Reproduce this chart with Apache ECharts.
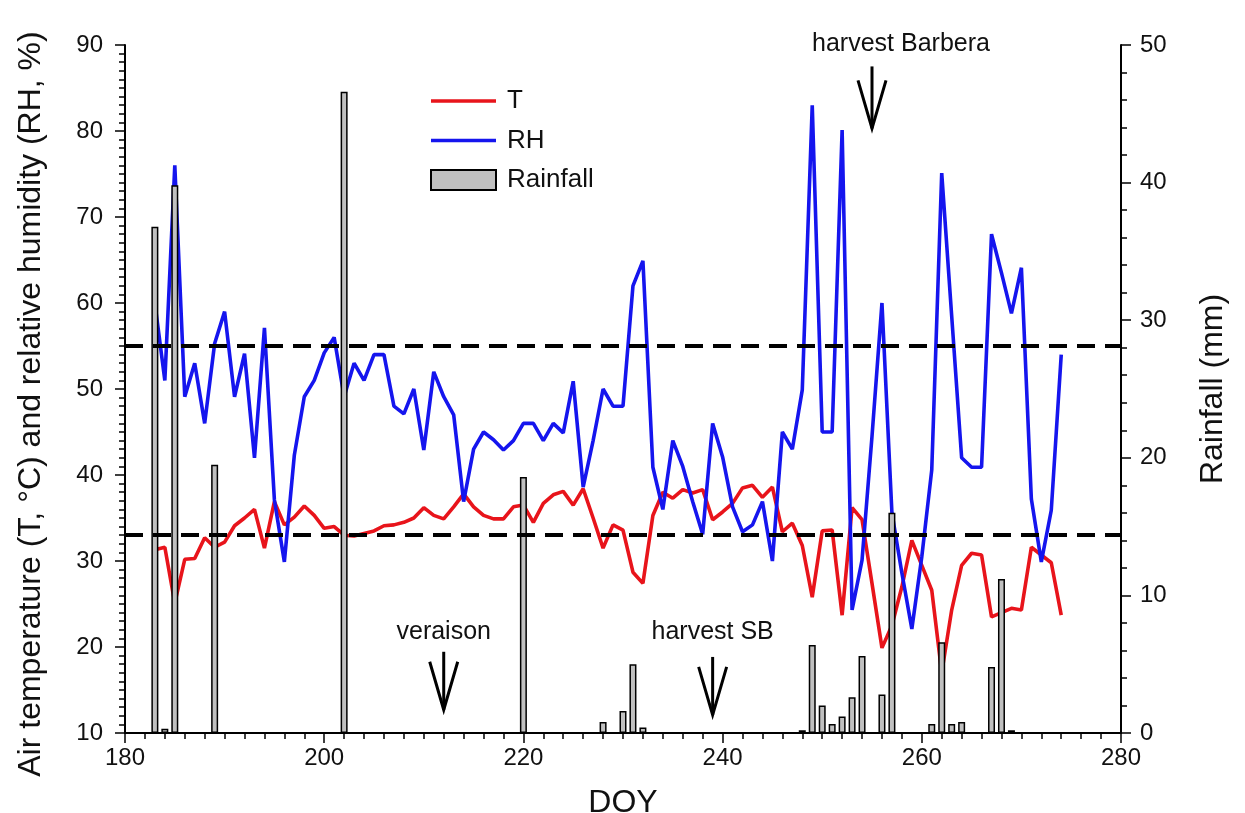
<!DOCTYPE html>
<html>
<head>
<meta charset="utf-8">
<script src="https://cdn.jsdelivr.net/npm/echarts@6/dist/echarts.min.js"></script>
<style>
  html, body { margin: 0; background: #fff; }
  #chart { width: 1245px; height: 813px; }
</style>
</head>
<body>
<div id="chart"></div>
<script>
// day of year for the daily T / RH records
var days = [183, 184, 185, 186, 187, 188, 189, 190, 191, 192, 193, 194, 195, 196, 197, 198, 199, 200,
  201, 202, 203, 204, 205, 206, 207, 208, 209, 210, 211, 212, 213, 214, 215, 216, 217, 218, 219, 220,
  221, 222, 223, 224, 225, 226, 227, 228, 229, 230, 231, 232, 233, 234, 235, 236, 237, 238, 239, 240,
  241, 242, 243, 244, 245, 246, 247, 248, 249, 250, 251, 252, 253, 254, 255, 256, 257, 258, 259, 260,
  261, 262, 263, 264, 265, 266, 267, 268, 269, 270, 271, 272, 273, 274];
// air temperature (°C)
var temp = [31.3, 31.6, 25.1, 30.2, 30.3, 32.7, 31.6, 32.2, 34.1, 35.0, 36.0, 31.5, 36.9, 34.2, 35.1, 36.4, 35.3, 33.8,
  34.0, 33.0, 32.9, 33.2, 33.5, 34.1, 34.2, 34.5, 35.0, 36.2, 35.3, 34.9, 36.3, 37.8, 36.3, 35.3, 34.9, 34.9, 36.3, 36.5,
  34.5, 36.7, 37.7, 38.1, 36.5, 38.4, 35.0, 31.5, 34.2, 33.6, 28.7, 27.4, 35.3, 38.0, 37.3, 38.3, 37.9, 38.3, 34.8, 35.7,
  36.7, 38.5, 38.8, 37.4, 38.6, 33.4, 34.4, 31.8, 25.8, 33.5, 33.6, 23.7, 36.2, 34.8, 27.4, 19.9, 22.5, 27.0, 32.4, 29.5,
  26.6, 17.0, 24.3, 29.5, 30.9, 30.7, 23.5, 24.0, 24.5, 24.3, 31.6, 30.7, 29.8, 23.7];
// relative humidity (%)
var rh = [60.0, 51.0, 76.0, 49.1, 53.0, 46.0, 55.3, 59.0, 49.1, 54.1, 42.0, 57.1, 37.1, 29.9, 42.3, 49.1, 51.0, 54.2,
  56.0, 49.1, 53.0, 51.0, 54.0, 54.0, 48.0, 47.1, 50.0, 42.9, 52.0, 49.1, 47.0, 36.9, 43.0, 45.0, 44.1, 42.9, 44.0, 46.0,
  46.0, 44.0, 46.0, 44.9, 50.9, 38.6, 44.0, 50.0, 48.0, 48.0, 62.0, 64.9, 40.9, 36.0, 44.0, 41.0, 36.9, 33.1, 46.0, 42.1,
  36.3, 33.4, 34.2, 36.9, 30.0, 45.0, 43.0, 49.9, 83.0, 45.0, 45.0, 80.1, 24.3, 30.1, 44.5, 60.0, 35.6, 28.6, 22.1, 30.5,
  40.6, 75.1, 58.5, 42.0, 40.9, 40.9, 68.0, 63.5, 58.8, 64.1, 37.2, 29.9, 35.9, 54.0];
// rainfall events (mm)
var rainDays = [183, 184, 185, 189, 202, 220, 228, 230, 231, 232, 248, 249, 250, 251, 252, 253, 254,
  256, 257, 261, 262, 263, 264, 267, 268, 269];
var rainMm = [36.8, 0.3, 39.8, 19.5, 46.6, 18.6, 0.8, 1.6, 5.0, 0.4, 0.2, 6.4, 2.0, 0.65, 1.2, 2.6, 5.6,
  2.8, 16.0, 0.65, 6.6, 0.65, 0.8, 4.8, 11.2, 0.2];
// dashed reference levels on the left axis
var refLevels = [55, 33];
// phenology marks
var noteText = ['veraison', 'harvest SB', 'harvest Barbera'];
var noteDoy = [212, 239, 255];

var FONT = 'Liberation Sans, Arial, sans-serif';
var RED = '#e8141b';
var BLUE = '#1515ee';
// thin horizontal bar inside a 65x20 box (the zero-area corners keep the box size)
var LINE_ICON = 'path://M0,0L1,0L0,0Z M0,8.2H65V11.8H0Z M0,20L1,20L0,20Z';

var chart = echarts.init(document.getElementById('chart'));

function zip(a, b) {
  return a.map(function (v, i) { return [v, b[i]]; });
}

var tickStyle = { color: '#000', width: 1.5 };

chart.setOption({
  animation: false,
  backgroundColor: '#fff',
  textStyle: { fontFamily: FONT },
  grid: { left: 125, right: 124, top: 45, bottom: 80, outerBoundsMode: 'none' },
  legend: {
    orient: 'vertical',
    left: 425,
    top: 83,
    itemWidth: 65,
    itemHeight: 20,
    itemGap: 13.5,
    textStyle: { fontSize: 26, color: '#111', fontFamily: FONT, padding: [0, 0, 0, 6] },
    data: [
      { name: 'T', icon: LINE_ICON, itemStyle: { color: RED, borderWidth: 0 } },
      { name: 'RH', icon: LINE_ICON, itemStyle: { color: BLUE, borderWidth: 0 } },
      { name: 'Rainfall', icon: 'rect' }
    ]
  },
  xAxis: {
    type: 'value',
    min: 180,
    max: 280,
    interval: 20,
    name: 'DOY',
    nameLocation: 'middle',
    nameGap: 54,
    nameTextStyle: { fontSize: 32, color: '#111', fontFamily: FONT },
    axisLine: { lineStyle: { color: '#000', width: 2 } },
    axisTick: { length: 10, lineStyle: tickStyle },
    minorTick: { show: true, splitNumber: 10, length: 6, lineStyle: tickStyle },
    axisLabel: { fontSize: 24, color: '#111', margin: 13, fontFamily: FONT },
    splitLine: { show: false }
  },
  yAxis: [{
    type: 'value',
    min: 10,
    max: 90,
    interval: 10,
    name: 'Air temperature (T, \u00b0C) and relative humidity (RH, %)',
    nameLocation: 'middle',
    nameRotate: 90,
    nameGap: 78,
    nameTextStyle: { fontSize: 32, color: '#111', fontFamily: FONT, padding: [0, 30, 0, 0] },
    axisLine: { show: true, lineStyle: { color: '#000', width: 2 } },
    axisTick: { show: true, length: 10, lineStyle: tickStyle },
    minorTick: { show: true, splitNumber: 10, length: 6, lineStyle: tickStyle },
    axisLabel: { fontSize: 24, color: '#111', margin: 22, fontFamily: FONT },
    splitLine: { show: false }
  }, {
    type: 'value',
    min: 0,
    max: 50,
    interval: 10,
    position: 'right',
    name: 'Rainfall (mm)',
    nameLocation: 'middle',
    nameRotate: 90,
    nameGap: 76,
    nameTextStyle: { fontSize: 32, color: '#111', fontFamily: FONT },
    axisLine: { show: true, lineStyle: { color: '#000', width: 2 } },
    axisTick: { show: true, length: 10, lineStyle: tickStyle },
    minorTick: { show: true, splitNumber: 5, length: 6, lineStyle: tickStyle },
    axisLabel: { fontSize: 24, color: '#111', margin: 19, fontFamily: FONT },
    splitLine: { show: false }
  }],
  series: [{
    name: 'T',
    type: 'line',
    data: zip(days, temp),
    symbol: 'none',
    z: 2,
    lineStyle: { color: RED, width: 3.6 },
    itemStyle: { color: RED }
  }, {
    name: 'RH',
    type: 'line',
    data: zip(days, rh),
    symbol: 'none',
    z: 2,
    lineStyle: { color: BLUE, width: 3.6 },
    itemStyle: { color: BLUE }
  }, {
    name: 'Rainfall',
    type: 'bar',
    yAxisIndex: 1,
    data: zip(rainDays, rainMm),
    barWidth: 7,
    z: 3,
    itemStyle: { color: '#c0c0c0', borderColor: '#000', borderWidth: 1.5 }
  }, {
    name: 'ref',
    type: 'line',
    data: [],
    z: 5,
    markLine: {
      silent: true,
      symbol: 'none',
      label: { show: false },
      lineStyle: { color: '#000', width: 4, type: [18, 10] },
      data: refLevels.map(function (v) { return { yAxis: v }; })
    }
  }]
});

// arrows + labels for the phenology marks
// tip = left-axis value at the arrow point, len = shaft length px, dx/dy = text offset px
var noteGeom = [
  { tip: 12.7, len: 58, dx: 0, dy: -78 },
  { tip: 12.1, len: 58, dx: 0, dy: -83 },
  { tip: 80.3, len: 62, dx: 29, dy: -84 }
];
var graphics = [];
noteText.forEach(function (t, i) {
  var g = noteGeom[i];
  var p = chart.convertToPixel({ xAxisIndex: 0, yAxisIndex: 0 }, [noteDoy[i], g.tip]);
  var x = p[0], y = p[1];
  graphics.push({
    type: 'polyline',
    shape: { points: [[x, y - g.len], [x, y]] },
    style: { stroke: '#000', lineWidth: 3, fill: null }
  });
  graphics.push({
    type: 'polyline',
    shape: { points: [[x - 14, y - 48], [x, y], [x + 14, y - 48]] },
    style: { stroke: '#000', lineWidth: 3, fill: null }
  });
  graphics.push({
    type: 'text',
    x: x + g.dx,
    y: y + g.dy,
    style: {
      text: t, fontSize: 25, fontFamily: FONT, fill: '#111',
      align: 'center', verticalAlign: 'middle'
    }
  });
});
chart.setOption({ graphic: graphics });
</script>
</body>
</html>
